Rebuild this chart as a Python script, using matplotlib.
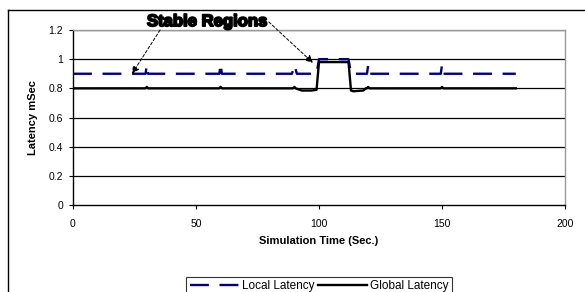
import matplotlib
matplotlib.use('Agg')
import matplotlib.pyplot as plt
import matplotlib.patheffects as pe
from matplotlib.lines import Line2D

plt.rcParams['font.family'] = ['Liberation Sans', 'DejaVu Sans']

# ── Data ──────────────────────────────────────────────────────────────────
local_time = [0, 29.5, 30, 30.5, 59.5, 60, 60.5, 89, 90, 91, 99, 100, 112, 113,
              119.5, 120, 120.5, 149.5, 150, 150.5, 180]
local_latency = [0.9, 0.9, 0.96, 0.9, 0.9, 0.97, 0.9, 0.9, 0.96, 0.9, 0.9, 1.0,
                 1.0, 0.9, 0.9, 0.96, 0.9, 0.9, 0.96, 0.9, 0.9]

global_time = [0, 29.5, 30, 30.5, 59.5, 60, 60.5, 89.5, 90, 90.5, 93, 97, 99,
               100, 112, 113, 114, 118, 119, 119.5, 120, 120.5, 149.5, 150,
               150.5, 180]
global_latency = [0.8, 0.8, 0.81, 0.8, 0.8, 0.81, 0.8, 0.8, 0.81, 0.8, 0.785,
                  0.785, 0.79, 0.98, 0.98, 0.785, 0.78, 0.785, 0.8, 0.8, 0.81,
                  0.8, 0.8, 0.81, 0.8, 0.8]

x_ticks = [0, 50, 100, 150, 200]
y_ticks = [0, 0.2, 0.4, 0.6, 0.8, 1.0, 1.2]
y_tick_labels = ['0', '0.2', '0.4', '0.6', '0.8', '1', '1.2']

# arrow tips for the "Stable Regions" callout
arrow_tips = [(24, 0.9), (97.5, 0.975)]


def main():
    fig = plt.figure(figsize=(5.85, 2.92), dpi=100)
    ax = fig.add_axes([73 / 585, 1 - 205 / 292, 492 / 585, 175 / 292])

    for y in y_ticks[1:]:
        ax.axhline(y, color='black', lw=0.9, zorder=1)

    ax.plot(local_time, local_latency, color='#000080', lw=1.7,
            dashes=(8, 4.5), label='Local Latency', zorder=3)
    ax.plot(global_time, global_latency, color='black', lw=1.7,
            label='Global Latency', zorder=3)

    ax.set_xlim(0, 200)
    ax.set_ylim(0, 1.2)
    ax.set_xticks(x_ticks)
    ax.set_xticklabels([str(v) for v in x_ticks])
    ax.set_yticks(y_ticks)
    ax.set_yticklabels(y_tick_labels)
    ax.tick_params(axis='both', labelsize=7.5, length=3, width=0.8,
                   direction='out', pad=4)
    ax.tick_params(axis='x', pad=7)

    for side in ('top', 'right'):
        ax.spines[side].set_color('#999999')
        ax.spines[side].set_linewidth(1)
    for side in ('left', 'bottom'):
        ax.spines[side].set_color('black')
        ax.spines[side].set_linewidth(1)

    ax.set_xlabel('Simulation Time (Sec.)', fontsize=8, fontweight='bold',
                  labelpad=5)
    ax.set_ylabel('Latency mSec', fontsize=8, fontweight='bold', labelpad=8)

    # callout
    ax.text(0.272, 1.005, 'Stable Regions', transform=ax.transAxes,
            fontsize=12, fontweight='bold', ha='center', va='bottom',
            path_effects=[pe.withStroke(linewidth=1.3, foreground='black')])
    ax.annotate('', xy=arrow_tips[0], xytext=(0.177, 1.0),
                textcoords='axes fraction',
                arrowprops=dict(arrowstyle='-|>', color='black', lw=0.7,
                                ls=(0, (3, 2)), mutation_scale=11,
                                shrinkA=0, shrinkB=0),
                annotation_clip=False)
    ax.annotate('', xy=arrow_tips[1], xytext=(0.398, 1.046),
                textcoords='axes fraction',
                arrowprops=dict(arrowstyle='-|>', color='black', lw=0.7,
                                ls=(0, (3, 2)), mutation_scale=11,
                                shrinkA=0, shrinkB=0),
                annotation_clip=False)

    leg = fig.legend(loc='upper center', bbox_to_anchor=(319 / 585, 1 - 271 / 292),
                     ncol=2, fontsize=8.5, frameon=True, fancybox=False,
                     edgecolor='black', handlelength=4.2, columnspacing=0.3,
                     handletextpad=0.2, borderpad=0.3)
    leg.get_frame().set_linewidth(0.8)

    # outer chart border
    fig.add_artist(Line2D([8 / 585, 8 / 585], [0, 1 - 10 / 292],
                          transform=fig.transFigure, color='black', lw=1))
    fig.add_artist(Line2D([8 / 585, 1], [1 - 10 / 292, 1 - 10 / 292],
                          transform=fig.transFigure, color='black', lw=1))

    fig.savefig('out.png', dpi=100)
    plt.close(fig)


if __name__ == '__main__':
    main()
